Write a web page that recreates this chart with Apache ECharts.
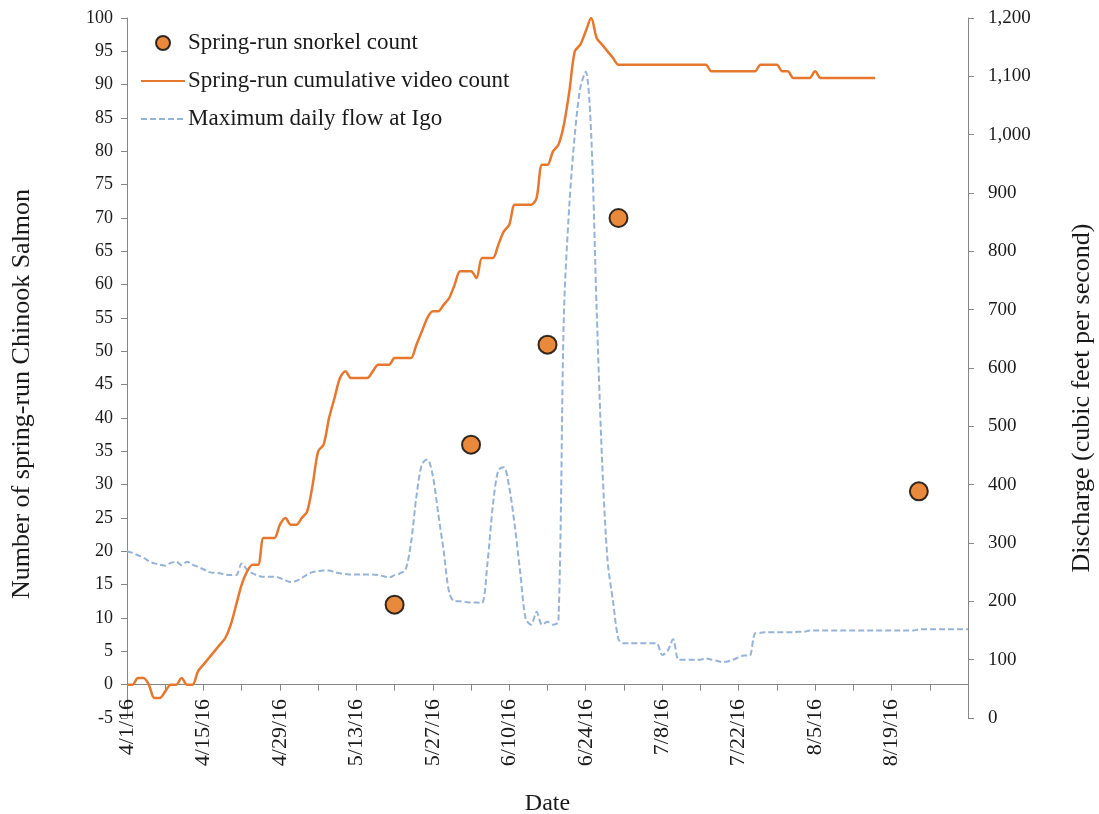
<!DOCTYPE html>
<html>
<head>
<meta charset="utf-8">
<script src="https://cdn.jsdelivr.net/npm/echarts@6/dist/echarts.min.js"></script>
<style>
  html, body { margin: 0; padding: 0; background: #ffffff; }
  #chart { width: 1099px; height: 814px; }
</style>
</head>
<body>
<div id="chart"></div>
<script>
// Daily categories: 4/1/16 through 9/2/16
const startDate = new Date(2016, 3, 1);
const dayCount = 155;
const dates = [];
for (let i = 0; i < dayCount; i++) {
  const d = new Date(startDate.getFullYear(), startDate.getMonth(), startDate.getDate() + i);
  dates.push((d.getMonth() + 1) + '/' + d.getDate() + '/16');
}

// Spring-run cumulative video count, one value per day from 4/1/16
const videoCount = [
  0, 0, 1, 1, 0, -2, -2, -1, 0, 0,
  1, 0, 0, 2, 3, 4, 5, 6, 7, 9,
  12, 15, 17, 18, 18, 22, 22, 22, 24, 25,
  24, 24, 25, 26, 30, 35, 36, 40, 43, 46,
  47, 46, 46, 46, 46, 47, 48, 48, 48, 49,
  49, 49, 49, 51, 53, 55, 56, 56, 57, 58,
  60, 62, 62, 62, 61, 64, 64, 64, 66, 68,
  69, 72, 72, 72, 72, 73, 78, 78, 80, 81,
  84, 89, 95, 96, 98, 100, 97, 96, 95, 94,
  93, 93, 93, 93, 93, 93, 93, 93, 93, 93,
  93, 93, 93, 93, 93, 93, 93, 92, 92, 92,
  92, 92, 92, 92, 92, 92, 93, 93, 93, 93,
  92, 92, 91, 91, 91, 91, 92, 91, 91, 91,
  91, 91, 91, 91, 91, 91, 91, 91
];

// Maximum daily flow at Igo (cfs), one value per day from 4/1/16
const maxFlow = [
  286, 283, 279, 275, 269, 265, 263, 261, 266, 268,
  262, 268, 263, 259, 255, 250, 249, 248, 246, 245,
  245, 265, 254, 248, 244, 242, 242, 242, 240, 236,
  233, 235, 240, 246, 250, 252, 253, 253, 250, 248,
  247, 246, 246, 246, 246, 246, 245, 243, 241, 245,
  248, 254, 300, 380, 435, 443, 415, 350, 285, 215,
  200, 200, 199, 198, 198, 197, 265, 365, 425, 430,
  395, 330, 250, 170, 160, 182, 160, 165, 160, 165,
  690, 880, 1000, 1080, 1108, 1000, 700, 440, 270, 200,
  135, 128, 128, 128, 128, 128, 128, 128, 108, 115,
  135, 100, 100, 100, 100, 100, 102, 100, 98, 96,
  97, 100, 104, 107, 107, 145, 146, 147, 147, 147,
  147, 147, 147, 148, 148, 150, 150, 150, 150, 150,
  150, 150, 150, 150, 150, 150, 150, 150, 150, 150,
  150, 150, 150, 150, 150, 152, 152, 152, 152, 152,
  152, 152, 152, 152, 152
];

// Snorkel survey dates and counts
const snorkelDates = ['5/20/16', '6/3/16', '6/17/16', '6/30/16', '8/24/16'];
const snorkelCounts = [12, 36, 51, 70, 29];

const leftTicks = { min: -5, max: 100, interval: 5 };
const rightTicks = { min: 0, max: 1200, interval: 100 };

const serif = '"Liberation Serif", "Times New Roman", serif';
const axisGray = '#868686';
const textColor = '#1a1a1a';
const orange = '#E8772E';
const dotFill = '#E46C0A';
const flowBlue = '#95B3D7';

const chart = echarts.init(document.getElementById('chart'), null, { renderer: 'canvas' });

chart.setOption({
  animation: false,
  backgroundColor: '#ffffff',
  textStyle: { fontFamily: serif },
  grid: {
    left: 127, right: 131, top: 18, bottom: 96,
    containLabel: false,
    outerBoundsMode: 'none'
  },
  legend: {
    orient: 'vertical',
    left: 135,
    top: 26,
    itemWidth: 44,
    itemHeight: 14,
    itemGap: 14,
    textStyle: { fontFamily: serif, fontSize: 23, lineHeight: 24, color: textColor, padding: [0, 0, 0, -2] },
    data: [
      { name: 'Spring-run snorkel count', icon: 'circle' },
      { name: 'Spring-run cumulative video count', itemStyle: { opacity: 0 } },
      { name: 'Maximum daily flow at Igo', itemStyle: { opacity: 0 } }
    ]
  },
  xAxis: {
    type: 'category',
    data: dates,
    boundaryGap: false,
    name: 'Date',
    nameLocation: 'middle',
    nameGap: 74,
    nameTextStyle: { fontFamily: serif, fontSize: 24, color: textColor },
    axisLine: { onZero: true, onZeroAxisIndex: 0, lineStyle: { color: axisGray, width: 1 } },
    axisTick: {
      show: true,
      length: 6,
      interval: (i) => i % 7 === 0,
      lineStyle: { color: axisGray }
    },
    axisLabel: {
      interval: (i) => i % 14 === 0 && i < 150,
      rotate: 90,
      margin: -19,
      fontFamily: serif,
      fontSize: 22,
      color: textColor
    },
    splitLine: { show: false }
  },
  yAxis: [
    {
      type: 'value',
      min: leftTicks.min,
      max: leftTicks.max,
      interval: leftTicks.interval,
      position: 'left',
      name: 'Number of spring-run Chinook Salmon',
      nameLocation: 'middle',
      nameRotate: 90,
      nameGap: 92,
      nameTextStyle: { fontFamily: serif, fontSize: 26, color: textColor, padding: [0, 52, 0, 0] },
      axisLine: { show: true, lineStyle: { color: axisGray, width: 1 } },
      axisTick: { show: true, length: 6, lineStyle: { color: axisGray } },
      axisLabel: { margin: 14, fontFamily: serif, fontSize: 18, color: textColor },
      splitLine: { show: false }
    },
    {
      type: 'value',
      min: rightTicks.min,
      max: rightTicks.max,
      interval: rightTicks.interval,
      position: 'right',
      name: 'Discharge (cubic feet per second)',
      nameLocation: 'middle',
      nameRotate: 90,
      nameGap: 101,
      nameTextStyle: { fontFamily: serif, fontSize: 26, color: textColor, padding: [0, 60, 0, 0] },
      axisLine: { show: true, lineStyle: { color: axisGray, width: 1 } },
      axisTick: { show: true, length: 6, lineStyle: { color: axisGray } },
      axisLabel: {
        margin: 20,
        fontFamily: serif,
        fontSize: 19,
        color: textColor,
        formatter: (v) => v.toLocaleString('en-US')
      },
      splitLine: { show: false }
    }
  ],
  series: [
    {
      name: 'Maximum daily flow at Igo',
      type: 'line',
      yAxisIndex: 1,
      data: maxFlow,
      symbol: 'none',
      smooth: 0.3,
      lineStyle: { color: flowBlue, width: 2, type: [6, 3] },
      itemStyle: { color: flowBlue },
      z: 2
    },
    {
      name: 'Spring-run cumulative video count',
      type: 'line',
      yAxisIndex: 0,
      data: videoCount,
      symbol: 'none',
      smooth: 0.3,
      lineStyle: { color: orange, width: 2.5 },
      itemStyle: { color: orange },
      z: 3
    },
    {
      name: 'Spring-run snorkel count',
      type: 'scatter',
      yAxisIndex: 0,
      data: snorkelDates.map((d, i) => [d, snorkelCounts[i]]),
      symbol: 'circle',
      symbolSize: 18,
      itemStyle: { color: dotFill, borderColor: '#000000', borderWidth: 2 },
      z: 4
    }
  ]
});
</script>
</body>
</html>
